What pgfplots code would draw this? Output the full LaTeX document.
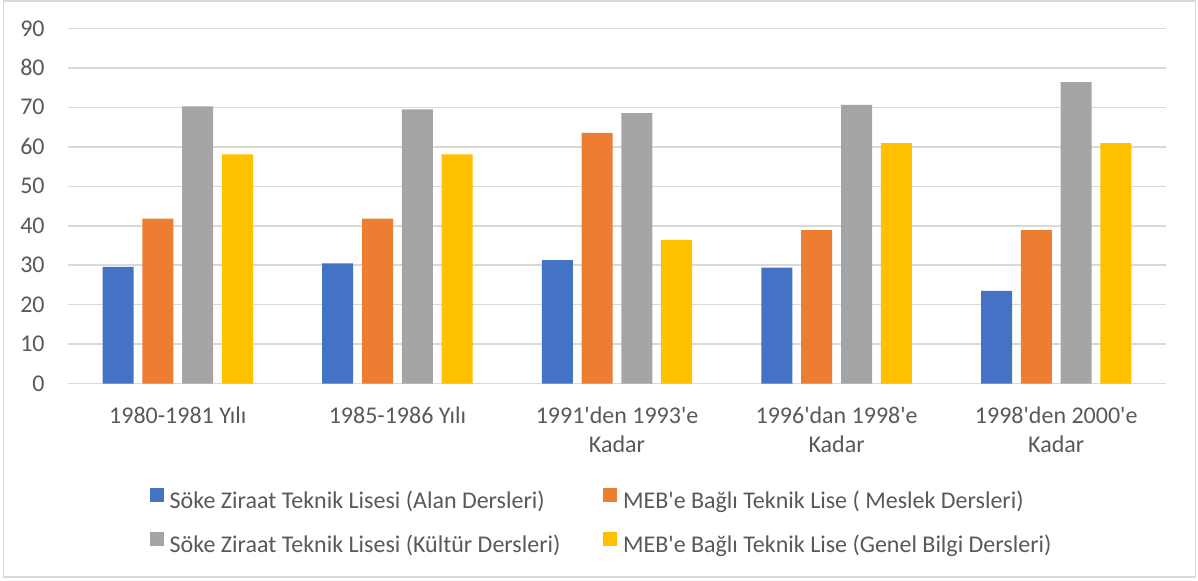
\documentclass[border=0pt]{standalone}
\usepackage{fontspec}
\setmainfont{Carlito}[Ligatures=TeXOff]
\usepackage{pgfplots}
\pgfplotsset{compat=1.18}
\definecolor{cblue}{HTML}{4472C4}
\definecolor{corange}{HTML}{ED7D31}
\definecolor{cgray}{HTML}{A5A5A5}
\definecolor{cyellow}{HTML}{FFC000}
\definecolor{gridc}{HTML}{D9D9D9}
\definecolor{txt}{HTML}{595959}
\newcommand{\st}{\rule{0pt}{10bp}}
\begin{document}
\begin{tikzpicture}
\useasboundingbox (0,0) rectangle (599bp,-290.5bp);
\fill[white] (0,0) rectangle (599bp,-290.5bp);
\draw[gridc, line width=0.75bp] (1.75bp,-0.5bp) rectangle (597.75bp,-288.5bp);
\begin{axis}[
  at={(34bp,-191.85bp)}, anchor=south west,
  width=549bp, height=177.7bp, scale only axis,
  xmin=-0.5, xmax=4.5, ymin=0, ymax=90,
  ybar=4.4bp, bar width=15.5bp,
  xtick={0,1,2,3,4},
  xticklabels={\st 1980-1981 Yılı, \st 1985-1986 Yılı, {\st 1991'den 1993'e\\Kadar}, {\st 1996'dan 1998'e\\Kadar}, {\st 1998'den 2000'e\\Kadar}},
  ytick={0,10,...,90},
  axis line style={draw=none},
  major tick length=0pt,
  ymajorgrids, grid style={gridc, line width=0.75bp},
  tick label style={font=\fontsize{12bp}{14.5bp}\selectfont, text=txt},
  yticklabel style={anchor=east, inner sep=0pt, xshift=-11.5bp},
  xticklabel style={anchor=north, inner sep=0pt, align=center, yshift=-9.8bp},
  /pgf/number format/assume math mode=true,
  legend columns=2,
  legend cell align=left,
  legend style={at={(0.0747,-0.2935)}, anchor=north west, draw=none, fill=none,
    inner sep=0pt, outer sep=0pt, font=\fontsize{12bp}{14.5bp}\selectfont, text=txt,
    nodes={inner sep=0pt, text height=8.5bp, text depth=2.5bp},
    /tikz/every odd column/.style={column sep=3bp},
    /tikz/every even column/.style={column sep=21.5bp},
    row sep=9.1bp},
  legend image code/.code={\fill[#1] (0bp,0.5bp) rectangle (6.85bp,7.35bp);},
]
\addplot[fill=cblue, draw=none] coordinates {(0,29.6) (1,30.5) (2,31.3) (3,29.4) (4,23.5)};
\addplot[fill=corange, draw=none] coordinates {(0,41.8) (1,41.8) (2,63.5) (3,38.9) (4,38.9)};
\addplot[fill=cgray, draw=none] coordinates {(0,70.2) (1,69.5) (2,68.5) (3,70.6) (4,76.4)};
\addplot[fill=cyellow, draw=none] coordinates {(0,58.1) (1,58.1) (2,36.4) (3,60.9) (4,60.9)};
\legend{Söke Ziraat Teknik Lisesi (Alan Dersleri), MEB'e Bağlı Teknik Lise ( Meslek Dersleri), Söke Ziraat Teknik Lisesi (Kültür Dersleri), MEB'e Bağlı Teknik Lise (Genel Bilgi Dersleri)}
\end{axis}
\end{tikzpicture}
\end{document}
